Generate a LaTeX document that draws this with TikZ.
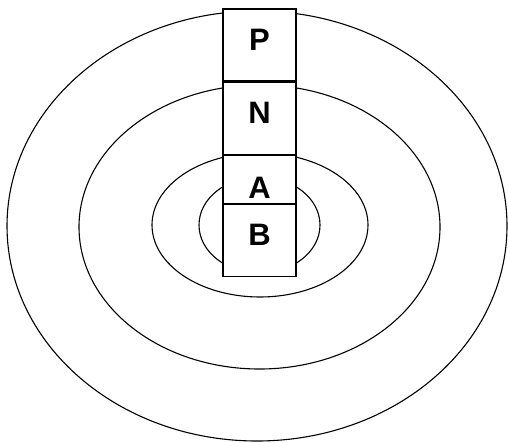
\documentclass[tikz,border=0pt]{standalone}
\usepackage{fontspec}
\setmainfont{Liberation Sans}
\usetikzlibrary{positioning}
\tikzset{
  ring/.style={line width=1.1pt},
  box/.style={draw, fill=white, line width=1.1pt, minimum width=73pt, minimum height=72pt,
    inner sep=0pt, font=\fontsize{31}{37}\selectfont\bfseries, text height=22pt, text depth=12pt},
  low/.style={minimum height=48pt, text height=38pt, text depth=0pt},
}
\begin{document}
\begin{tikzpicture}[x=1pt, y=-1pt, node distance=0pt]
  \useasboundingbox (0,0) rectangle (508,442);
  % rings, outer to inner
  \draw[ring] (257,226) ellipse [x radius=250pt, y radius=215pt];
  \draw[ring] (259.5,227) ellipse [x radius=180.5pt, y radius=142pt];
  \draw[ring] (260,225) ellipse [x radius=108pt, y radius=72pt];
  \draw[ring] (259.5,225) ellipse [x radius=60.5pt, y radius=48pt];
  % column of boxes
  \node[box] (p) at (259.5,45) {P};
  \node[box, below=of p] (n) {N};
  \node[box, low, below=of n] (a) {A};
  \node[box, below=of a] (b) {B};
\end{tikzpicture}
\end{document}
